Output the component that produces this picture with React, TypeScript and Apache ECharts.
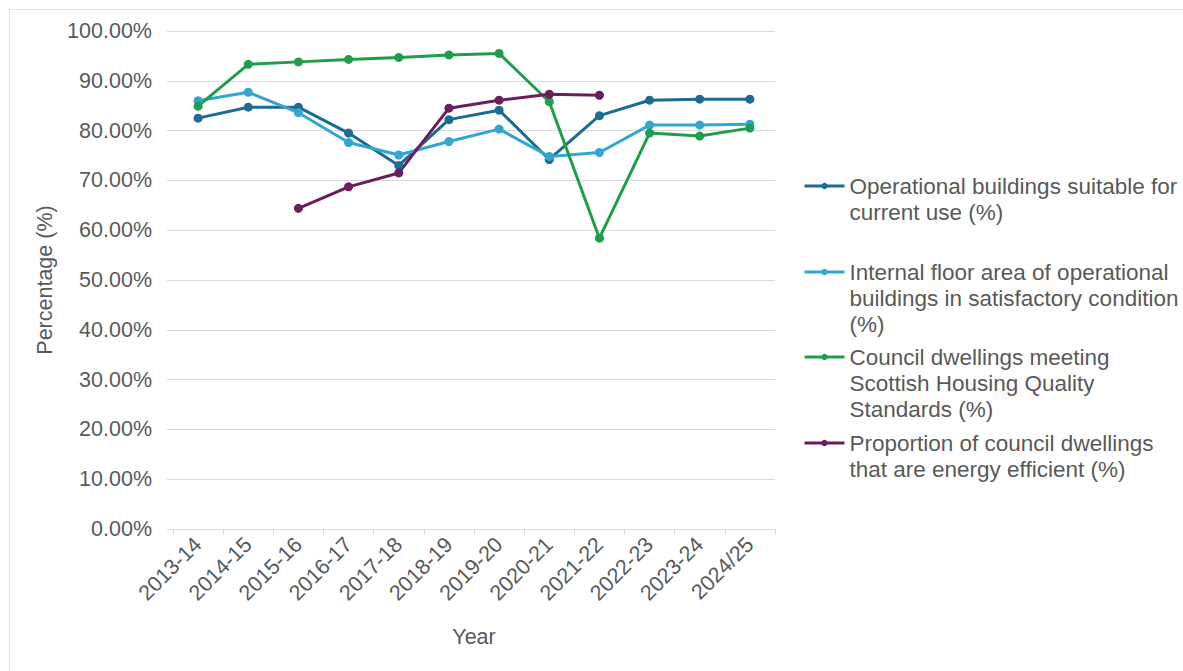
import React, { useEffect, useRef } from "react";
import * as echarts from "echarts";

const categories = ["2013-14", "2014-15", "2015-16", "2016-17", "2017-18", "2018-19", "2019-20", "2020-21", "2021-22", "2022-23", "2023-24", "2024/25"];

const operationalSuitable = [82.5, 84.7, 84.7, 79.5, 73.0, 82.2, 84.1, 74.2, 83.0, 86.1, 86.3, 86.3];
const floorAreaSatisfactory = [86.0, 87.7, 83.6, 77.6, 75.1, 77.8, 80.3, 74.8, 75.6, 81.1, 81.1, 81.3];
const shqsDwellings = [84.9, 93.3, 93.8, 94.3, 94.7, 95.2, 95.5, 85.8, 58.4, 79.5, 78.9, 80.5];
const energyEfficient = [null, null, 64.4, 68.7, 71.5, 84.5, 86.1, 87.3, 87.1, null, null, null];

const yTicks = [0, 10, 20, 30, 40, 50, 60, 70, 80, 90, 100];

const seriesNames = [
  "Operational buildings suitable for\ncurrent use (%)",
  "Internal floor area of operational\nbuildings in satisfactory condition\n(%)",
  "Council dwellings meeting\nScottish Housing Quality\nStandards (%)",
  "Proportion of council dwellings\nthat are energy efficient (%)",
];
const seriesData = [operationalSuitable, floorAreaSatisfactory, shqsDwellings, energyEfficient];
const colors = ["#1b6b93", "#31a6d1", "#1f9e4a", "#6c1d5c"];
const legendTops = [186, 272, 357, 443];

const FONT = "'Liberation Sans', Arial, sans-serif";
const TEXT = "#595959";
const LH = 26;
const AXIS_FS = 21.5;
const LEGEND_FS = 22.5;

export default function App() {
  const ref = useRef<HTMLDivElement>(null);
  useEffect(() => {
    if (!ref.current) return;
    const chart = echarts.init(ref.current, null, { renderer: "svg" });
    chart.setOption({
      animation: false,
      backgroundColor: "#ffffff",
      textStyle: { fontFamily: FONT },
      graphic: [
        {
          type: "rect",
          shape: { x: 9.5, y: 9.5, width: 1300, height: 800 },
          style: { fill: "none", stroke: "#e3e3e3", lineWidth: 1 },
          silent: true,
        },
      ],
      grid: { left: 173, right: 1183 - 775, top: 31, bottom: 671 - 529, containLabel: false },
      legend: seriesNames.map((name, i) => {
        const n = name.split("\n").length;
        return {
          data: [name],
          orient: "vertical",
          left: 798,
          top: legendTops[i] - 5 - ((2 * n - 1) * LH) / 2,
          itemWidth: 40,
          itemHeight: 8,
          selectedMode: false,
          formatter: (s: string) => "\n".repeat(n - 1) + s,
          lineStyle: { width: 3 },
          textStyle: {
            fontFamily: FONT,
            fontSize: LEGEND_FS,
            color: TEXT,
            lineHeight: LH,
          },
        };
      }),
      xAxis: {
        type: "category",
        data: categories,
        boundaryGap: true,
        name: "Year",
        nameLocation: "middle",
        nameGap: 97,
        nameTextStyle: { fontFamily: FONT, fontSize: AXIS_FS, color: TEXT, verticalAlign: "top" },
        axisLine: { show: true, lineStyle: { color: "#d9d9d9", width: 1 } },
        axisTick: { show: true, alignWithLabel: false, length: 6, lineStyle: { color: "#d9d9d9" } },
        axisLabel: { rotate: 45, fontFamily: FONT, fontSize: AXIS_FS, color: TEXT, margin: 12, interval: 0 },
        splitLine: { show: false },
      },
      yAxis: {
        type: "value",
        min: yTicks[0],
        max: yTicks[yTicks.length - 1],
        interval: 10,
        name: "Percentage (%)",
        nameLocation: "middle",
        nameGap: 117,
        nameTextStyle: { fontFamily: FONT, fontSize: AXIS_FS, color: TEXT },
        axisLine: { show: false },
        axisTick: { show: true, length: 6, lineStyle: { color: "#d9d9d9" } },
        axisLabel: {
          fontFamily: FONT,
          fontSize: AXIS_FS,
          color: TEXT,
          margin: 21,
          formatter: (v: number) => v.toFixed(2) + "%",
        },
        splitLine: { show: true, lineStyle: { color: "#d9d9d9", width: 1 } },
      },
      series: seriesNames.map((name, i) => ({
        name,
        type: "line",
        data: seriesData[i],
        connectNulls: false,
        symbol: "circle",
        symbolSize: 9,
        showSymbol: true,
        lineStyle: { color: colors[i], width: 3 },
        itemStyle: { color: colors[i] },
        emphasis: { disabled: true },
      })),
    });
    return () => chart.dispose();
  }, []);
  return <div ref={ref} style={{ position: "absolute", left: 0, top: 0, width: 1183, height: 671 }} />;
}
